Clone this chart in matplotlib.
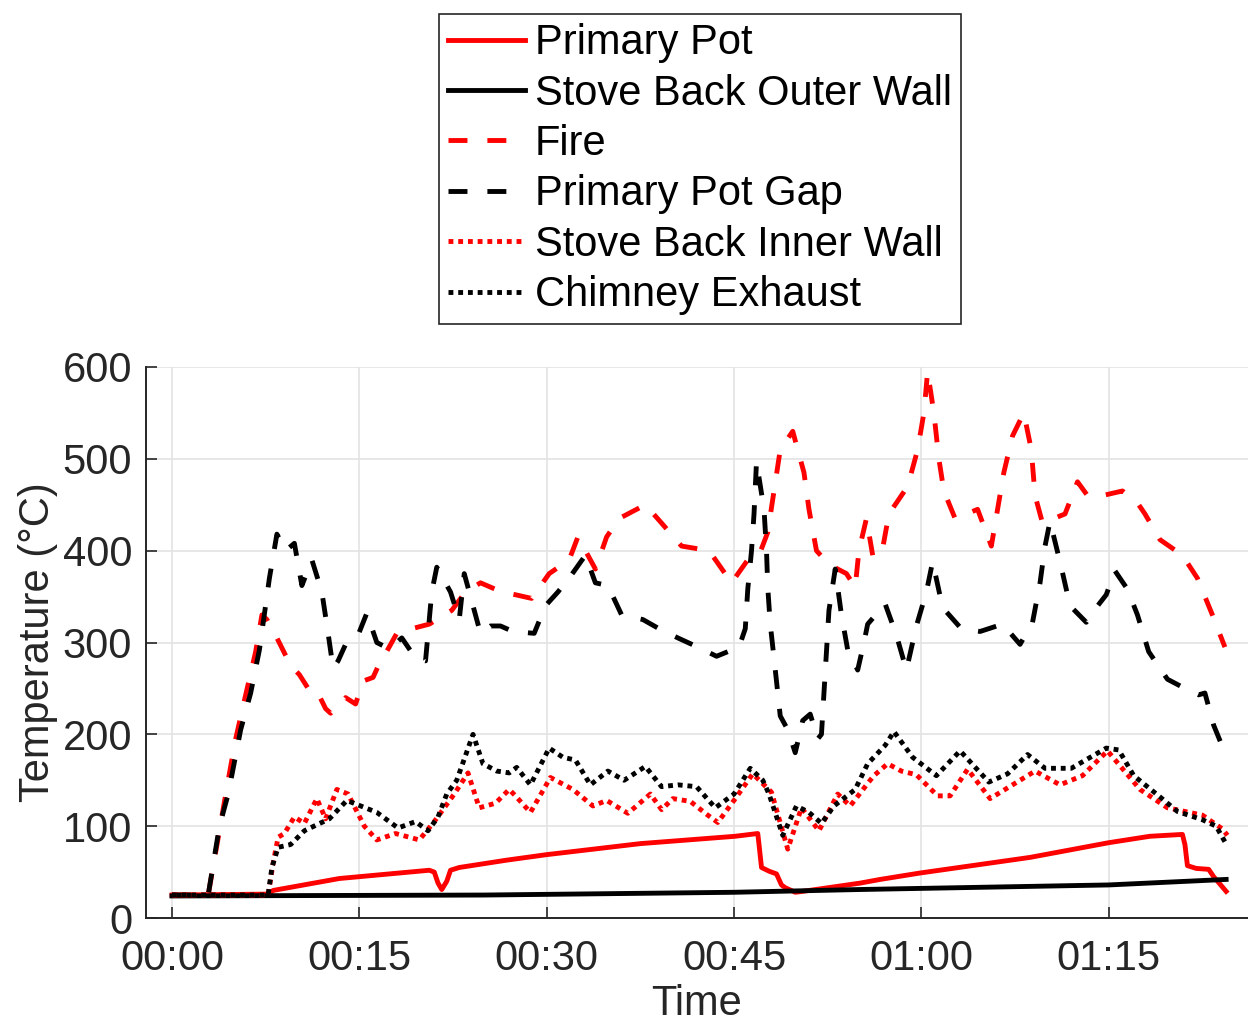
import matplotlib
matplotlib.use("Agg")
import matplotlib.pyplot as plt
from matplotlib.ticker import FuncFormatter

# ---- data (time in minutes, temperature in °C) ----
pot_t = [0, 7.7, 8.1, 13.4, 20.6, 21.0, 21.3, 21.6, 22.0, 22.3, 23.0, 26.8, 30.0, 37.5, 45.1, 46.9,
         47.0, 47.2, 47.8, 48.4, 48.8, 49.1, 49.9, 50.5, 55.1, 56.7, 59.9, 68.7, 75.0, 78.3, 80.9,
         81.1, 81.3, 82.0, 83.0, 83.4, 84.4]
pot_v = [25, 26, 30, 43, 52, 50, 38, 31, 40, 52, 55, 63, 69, 81, 89, 92,
         80, 55, 51, 48, 36, 33, 28, 29, 38, 42, 49, 66, 82, 89, 91,
         80, 57, 54, 53, 45, 29]

outer_t = [0, 25, 45, 55, 75, 84.4]
outer_v = [24, 25, 28, 31, 36, 42]

fire_t = [0, 2.9, 4.5, 5.1, 5.8, 6.7, 7.2, 7.6, 8.4, 9.5, 10.2, 10.9, 11.5, 12.3, 12.7, 13.9, 14.7,
          15.3, 16.1, 16.7, 17.1, 18.0, 19.2, 20.6, 22.4, 23.5, 24.7, 26.4, 27.5, 28.8, 30.2, 31.8,
          32.5, 33.9, 34.8, 35.8, 37.9, 39.2, 40.8, 43.0, 44.8, 46.1, 47.0, 47.7, 48.2, 48.7, 49.7,
          50.6, 51.0, 51.6, 52.6, 54.0, 54.7, 55.0, 55.6, 56.1, 56.8, 57.4, 58.9, 59.7, 60.2, 60.5,
          61.0, 61.4, 61.8, 62.7, 64.5, 65.6, 66.1, 66.6, 67.3, 68.2, 68.8, 69.1, 69.7, 71.5, 72.5,
          73.3, 74.5, 76.1, 77.4, 77.9, 79.1, 80.9, 82.1, 83.3, 84.3]
fire_v = [25, 25, 150, 195, 237, 290, 330, 325, 305, 275, 265, 250, 250, 228, 223, 240, 233,
          258, 262, 280, 288, 310, 315, 320, 335, 355, 365, 355, 352, 348, 375, 390,
          415, 380, 415, 435, 450, 430, 405, 400, 365, 390, 395, 420, 465, 510, 530,
          485, 445, 400, 385, 375, 360, 400, 435, 395, 395, 440, 470, 510, 550, 595,
          550, 500, 465, 435, 445, 405, 445, 485, 525, 550, 510, 460, 430, 440, 475,
          460, 460, 465, 450, 440, 412, 395, 370, 330, 295]

gap_t = [0, 2.9, 3.8, 4.5, 5.5, 6.3, 7.0, 7.8, 8.4, 9.1, 9.8, 10.4, 11.2, 12.0, 12.5, 12.9, 13.3,
         13.9, 14.9, 15.6, 16.4, 17.4, 18.4, 19.5, 20.3, 20.8, 21.2, 22.3, 23.0, 23.4, 24.0, 24.7,
         25.5, 26.3, 27.3, 29.0, 29.9, 30.9, 31.9, 33.1, 33.9, 34.9, 36.0, 37.7, 39.0, 40.5, 42.1,
         43.6, 45.4, 45.9, 46.1, 46.4, 46.6, 46.8, 47.4, 47.6, 47.7, 47.9, 48.2, 48.7, 49.3, 49.9,
         50.5, 51.1, 51.7, 52.0, 52.4, 52.6, 53.1, 53.6, 54.1, 54.9, 55.4, 55.7, 57.1, 58.0, 58.8,
         59.6, 60.4, 60.9, 61.7, 63.2, 64.7, 66.5, 67.9, 68.9, 69.5, 69.9, 70.3, 71.2, 71.9, 73.2,
         74.0, 74.8, 75.5, 76.5, 77.3, 78.2, 79.7, 81.1, 82.2, 82.7, 83.4, 84.3]
gap_v = [25, 25, 100, 135, 205, 245, 292, 370, 418, 400, 408, 362, 390, 355, 310, 272, 280,
         298, 308, 332, 300, 293, 305, 283, 280, 355, 382, 355, 325, 375, 345, 310,
         318, 318, 312, 310, 340, 355, 372, 395, 365, 362, 330, 325, 315, 305, 295,
         285, 295, 315, 358, 400, 440, 497, 445, 400, 360, 320, 283, 220, 205, 180,
         215, 222, 195, 200, 290, 335, 380, 330, 292, 270, 300, 320, 342, 308, 270,
         318, 355, 388, 338, 315, 312, 320, 298, 322, 365, 405, 432, 382, 340, 322,
         338, 352, 378, 358, 330, 290, 260, 250, 243, 245, 210, 180]

inner_t = [0, 7.7, 8.1, 8.5, 9.0, 9.8, 10.6, 11.6, 12.3, 13.2, 14.1, 15.4, 16.4, 17.9, 19.8, 21.0,
           22.6, 23.7, 24.6, 25.9, 27.0, 27.5, 28.7, 30.3, 32.1, 33.7, 34.8, 36.5, 38.3, 39.2, 40.1,
           41.5, 42.8, 43.7, 45.1, 46.5, 48.0, 49.3, 50.4, 51.8, 53.3, 54.3, 55.9, 56.2, 57.3, 58.4,
           59.6, 61.3, 62.3, 63.7, 65.5, 67.3, 69.1, 71.1, 72.9, 74.9, 77.5, 79.7, 82.5, 84.1, 84.5]
inner_v = [25, 25, 60, 88, 92, 110, 103, 130, 108, 140, 135, 100, 85, 92, 85, 105,
           135, 158, 120, 125, 140, 133, 115, 153, 140, 122, 128, 114, 135, 118, 130,
           127, 113, 104, 130, 157, 137, 75, 120, 95, 135, 122, 150, 155, 168, 160,
           156, 133, 133, 162, 130, 145, 160, 145, 155, 182, 140, 120, 112, 97, 90]

chim_t = [0, 7.7, 8.0, 8.5, 9.5, 10.6, 12.6, 14.0, 16.4, 18.1, 19.5, 20.5, 21.3, 22.0, 22.8, 24.1,
          24.9, 26.0, 27.0, 27.6, 28.7, 30.2, 31.3, 32.3, 33.5, 34.9, 36.2, 37.9, 39.2, 40.5, 42.0,
          43.5, 45.0, 46.3, 47.3, 47.8, 48.9, 50.0, 51.0, 52.0, 53.0, 54.7, 55.7, 57.1, 57.8, 59.3,
          61.2, 63.1, 65.4, 66.9, 68.5, 69.9, 72.0, 74.8, 75.8, 77.0, 79.0, 80.5, 82.5, 83.6, 84.3]
chim_v = [25, 25, 55, 77, 80, 95, 108, 128, 115, 98, 105, 95, 110, 135, 150, 200,
          168, 160, 158, 164, 145, 185, 175, 172, 145, 160, 150, 165, 143, 145, 143,
          120, 135, 163, 150, 135, 90, 122, 115, 103, 122, 140, 168, 188, 203, 175,
          155, 182, 148, 157, 178, 163, 163, 185, 183, 155, 133, 116, 107, 100, 83]

xticks_min = [0, 15, 30, 45, 60, 75]
yticks = [0, 100, 200, 300, 400, 500, 600]

# ---- styling ----
plt.rcParams['font.family'] = ['Liberation Sans', 'DejaVu Sans']
TXT = '#262626'
LW = 3.5
FS = 30

fig = plt.figure(figsize=(12.48, 10.24), dpi=100)
ax = fig.add_axes([146 / 1248, 1 - 918 / 1024, 1 - 146 / 1248, (918 - 367) / 1024])

l1, = ax.plot(pot_t, pot_v, color='red', lw=LW, solid_joinstyle='round', label='Primary Pot')
l2, = ax.plot(outer_t, outer_v, color='black', lw=LW, label='Stove Back Outer Wall')
l3, = ax.plot(fire_t, fire_v, color='red', lw=LW, dashes=(3.9, 4.1), label='Fire')
l4, = ax.plot(gap_t, gap_v, color='black', lw=LW, dashes=(3.9, 4.1), label='Primary Pot Gap')
l5, = ax.plot(inner_t, inner_v, color='red', lw=LW, dashes=(1, 1), label='Stove Back Inner Wall')
l6, = ax.plot(chim_t, chim_v, color='black', lw=LW, dashes=(1, 1), label='Chimney Exhaust')

ax.set_xlim(-2.08, 86.15)
ax.set_ylim(0, 600)
ax.set_xticks(xticks_min)
ax.set_yticks(yticks)
ax.xaxis.set_major_formatter(FuncFormatter(lambda m, p: f"{int(m // 60):02d}:{int(m % 60):02d}"))

ax.grid(True, color='#e3e3e3', lw=1.2)
ax.set_axisbelow(True)
for s in ['top', 'right']:
    ax.spines[s].set_visible(False)
for s in ['left', 'bottom']:
    ax.spines[s].set_color(TXT)
    ax.spines[s].set_linewidth(1.4)
ax.tick_params(axis='both', direction='in', length=8, width=1.2, colors=TXT,
               labelsize=FS, labelcolor=TXT)
ax.tick_params(axis='y', pad=10)
ax.tick_params(axis='x', pad=15)

ax.set_xlabel('Time', fontsize=FS, color=TXT, labelpad=4)
ax.set_ylabel('Temperature (°C)', fontsize=FS, color=TXT, labelpad=3)

leg = fig.legend(handles=[l1, l2, l3, l4, l5, l6], loc='upper center',
                 bbox_to_anchor=(700 / 1248, 1 - 14 / 1024), fontsize=FS,
                 frameon=True, fancybox=False, edgecolor=TXT, framealpha=1,
                 handlelength=1.85, handletextpad=0.22, labelspacing=0.25,
                 borderpad=0.22, borderaxespad=0)
leg.get_frame().set_linewidth(1.2)

fig.savefig('out.png', dpi=100)
